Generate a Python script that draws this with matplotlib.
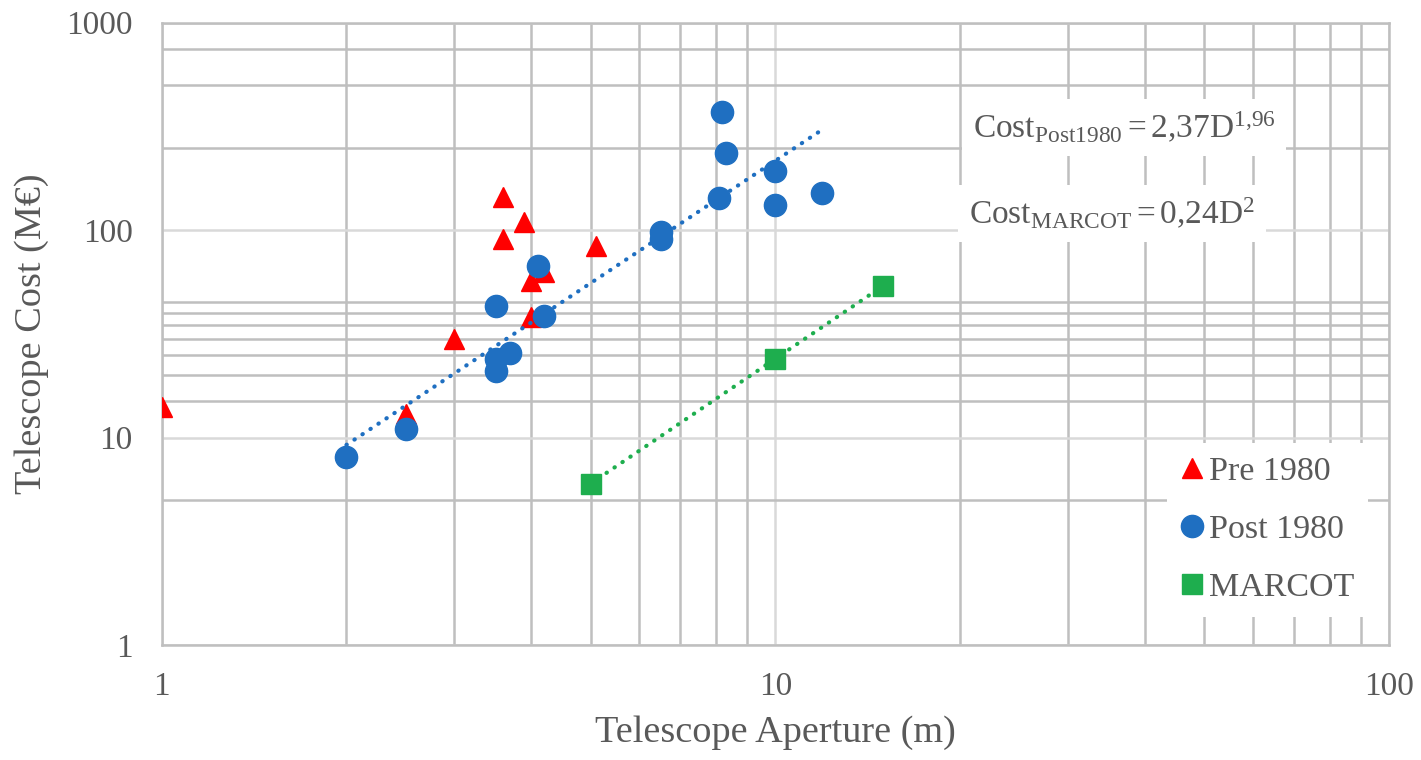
import matplotlib
matplotlib.use("Agg")
import matplotlib.pyplot as plt
from matplotlib.ticker import FixedLocator, NullFormatter
from matplotlib.lines import Line2D
import numpy as np

# data (aperture in m, cost in M EUR)
pre_aperture = [1.0, 2.5, 3.0, 3.6, 3.6, 3.9, 4.0, 4.2, 4.0, 5.1]
pre_cost = [14, 13, 30, 145, 91, 110, 57, 63, 38, 84]

post_aperture = [2.0, 2.5, 3.5, 3.5, 3.5, 3.7, 4.1, 4.2, 6.5, 6.5,
                 8.1, 8.2, 8.3, 10.0, 10.0, 11.9]
post_cost = [8.1, 11, 43, 21, 24, 25.5, 67, 38.5, 98, 91,
             143, 370, 236, 193, 132, 151]

marcot_aperture = [5, 10, 15]
marcot_cost = [6, 24, 54]

# trendline coefficients as printed on the chart
post_coef, post_exp = 2.37, 1.96
post_fit_range = [2, 12]
marcot_coef, marcot_exp = 0.24, 2.0
marcot_fit_range = [5, 15]

x_ticks = [1, 10, 100]
y_ticks = [1, 10, 100, 1000]
y_grid_minor = [5, 15, 20, 25, 30, 35, 40, 45, 250, 500, 750]

text_color = "#595959"
grid_minor = "#BFBFBF"
grid_major = "#D9D9D9"
c_pre = "#FF0000"
c_post = "#1F6FC1"
c_marcot = "#1EAE4E"

plt.rcParams["font.family"] = ["Liberation Serif", "DejaVu Serif"]
plt.rcParams["mathtext.fontset"] = "custom"
plt.rcParams["mathtext.rm"] = "Liberation Serif"
plt.rcParams["mathtext.it"] = "Liberation Serif:italic"

fig = plt.figure(figsize=(14.21, 7.60), dpi=100)
ax = fig.add_axes([0.1138, 0.1513, 0.8637, 0.8188])
ax.set_xscale("log")
ax.set_yscale("log")
ax.set_xlim(1, 100)
ax.set_ylim(1, 1000)

# grid
ax.set_xticks(x_ticks)
ax.set_xticklabels([str(v) for v in x_ticks])
ax.set_yticks(y_ticks)
ax.set_yticklabels([str(v) for v in y_ticks])
ax.xaxis.set_minor_locator(FixedLocator([m * 10 ** e for e in (0, 1) for m in range(2, 10)]))
ax.yaxis.set_minor_locator(FixedLocator(y_grid_minor))
ax.xaxis.set_minor_formatter(NullFormatter())
ax.yaxis.set_minor_formatter(NullFormatter())
ax.grid(which="minor", color=grid_minor, linewidth=1.8, zorder=0)
ax.grid(which="major", color=grid_major, linewidth=1.8, zorder=0)
ax.set_axisbelow(True)
ax.tick_params(which="both", length=0, labelsize=24, labelcolor=text_color)
ax.tick_params(axis="y", pad=21)
ax.tick_params(axis="x", pad=19)
for s in ax.spines.values():
    s.set_color(grid_minor)
    s.set_linewidth(1.8)

# points
ax.plot(pre_aperture, pre_cost, "^", color=c_pre, markersize=15, zorder=3)
ax.plot(post_aperture, post_cost, "o", color=c_post, markersize=16, zorder=4)
ax.plot(marcot_aperture, marcot_cost, "s", color=c_marcot, markersize=15, zorder=4)

# trendlines
dots = dict(linestyle=(0, (0.1, 2.2)), dash_capstyle="round", linewidth=3.0, zorder=5)
xp = np.geomspace(*post_fit_range, 50)
ax.plot(xp, post_coef * xp ** post_exp, color=c_post, **dots)
xm = np.geomspace(*marcot_fit_range, 50)
ax.plot(xm, marcot_coef * xm ** marcot_exp, color=c_marcot, **dots)

# equations
box = dict(facecolor="white", edgecolor="none", pad=8)
ax.text(0.784, 0.831, r"$\mathrm{Cost}_{\mathrm{Post1980}}=2{,}37\mathrm{D}^{1{,}96}$",
        transform=ax.transAxes, ha="center", va="center", fontsize=24,
        color=text_color, bbox=box, zorder=6)
ax.text(0.774, 0.694, r"$\mathrm{Cost}_{\mathrm{MARCOT}}=0{,}24\mathrm{D}^{2}$",
        transform=ax.transAxes, ha="center", va="center", fontsize=24,
        color=text_color, bbox=box, zorder=6)

ax.set_xlabel("Telescope Aperture (m)", fontsize=27.5, color=text_color, labelpad=10)
ax.set_ylabel("Telescope Cost (M€)", fontsize=27.5, color=text_color, labelpad=12)

handles = [
    Line2D([], [], marker="^", linestyle="none", color=c_pre, markersize=15),
    Line2D([], [], marker="o", linestyle="none", color=c_post, markersize=16),
    Line2D([], [], marker="s", linestyle="none", color=c_marcot, markersize=15),
]
leg = ax.legend(handles, ["Pre 1980", "Post 1980", "MARCOT"], loc="lower right",
                bbox_to_anchor=(0.983, 0.045), borderaxespad=0, fontsize=24.5,
                frameon=True, facecolor="white", edgecolor="none", framealpha=1,
                fancybox=False, handletextpad=0.15, handlelength=0.7,
                labelspacing=0.8, borderpad=0.4, labelcolor=text_color)
leg.set_zorder(7)

fig.savefig("out.png", dpi=100)
